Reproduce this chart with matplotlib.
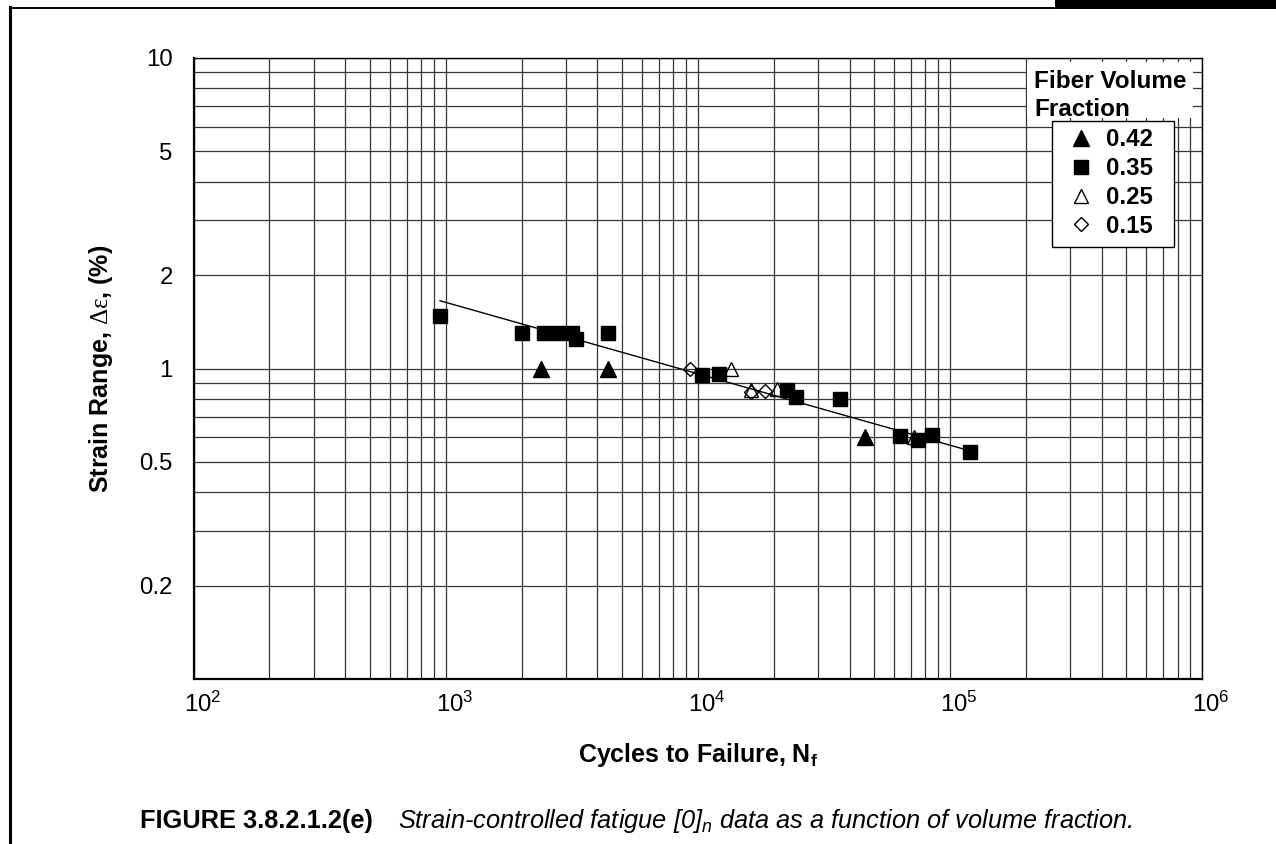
import numpy as np
import matplotlib
matplotlib.use('Agg')
import matplotlib.pyplot as plt
from matplotlib.lines import Line2D
from matplotlib.patches import Rectangle
from matplotlib.ticker import LogLocator, NullFormatter, FixedLocator, FixedFormatter
from matplotlib.transforms import ScaledTranslation

plt.rcParams['font.family'] = ['Liberation Sans', 'DejaVu Sans']
plt.rcParams['mathtext.fontset'] = 'custom'
plt.rcParams['mathtext.rm'] = 'Liberation Serif'
plt.rcParams['mathtext.it'] = 'Liberation Sans:italic'
plt.rcParams['mathtext.bf'] = 'Liberation Sans:bold'
plt.rcParams['mathtext.sf'] = 'Liberation Sans'

# ---------------- data ----------------
series_labels = ['0.42', '0.35', '0.25', '0.15']

n_042 = [2400, 4400, 46000]
e_042 = [1.0, 1.0, 0.6]

n_035 = [950, 2000, 2450, 2780, 3180, 3280, 4400, 10400, 12100,
         22500, 24500, 36500, 63500, 75000, 85000, 120000]
e_035 = [1.48, 1.3, 1.3, 1.3, 1.3, 1.24, 1.3, 0.955, 0.96,
         0.85, 0.81, 0.80, 0.605, 0.59, 0.61, 0.54]

n_025 = [13500, 16300, 20600, 72000]
e_025 = [1.0, 0.855, 0.86, 0.6]

n_015 = [9300, 16300, 18400]
e_015 = [1.0, 0.84, 0.845]

fit_coef = 8.0
fit_exp = -0.23
fit_n_range = [950, 118000]

legend_title_lines = ['Fiber Volume', 'Fraction']
x_ticks = [1e2, 1e3, 1e4, 1e5, 1e6]
x_tick_labels = [r'$\mathsf{10^{2}}$', r'$\mathsf{10^{3}}$', r'$\mathsf{10^{4}}$',
                 r'$\mathsf{10^{5}}$', r'$\mathsf{10^{6}}$']
y_ticks = [0.2, 0.5, 1, 2, 5, 10]
y_tick_labels = ['0.2', '0.5', '1', '2', '5', '10']
x_label = r'Cycles to Failure, N$_{\mathbf{f}}$'
y_label = r'Strain Range, $\mathrm{\Delta\varepsilon}$, (%)'
caption_bold = 'FIGURE 3.8.2.1.2(e)'
caption_italic = r'Strain-controlled fatigue [0]$_{\mathit{n}}$ data as a function of volume fraction.'

# ---------------- figure ----------------
W, H = 1276, 844
fig = plt.figure(figsize=(W / 100, H / 100), dpi=100)
fig.patch.set_facecolor('white')

L, R, T, B = 193.5, 1202, 58, 679
ax = fig.add_axes([L / W, 1 - B / H, (R - L) / W, (B - T) / H])
ax.set_xscale('log')
ax.set_yscale('log')
ax.set_xlim(1e2, 1e6)
ax.set_ylim(0.1, 10)


def ax_x(px):
    return (px - L) / (R - L)


def ax_y(py):
    return (B - py) / (B - T)


ax.xaxis.set_major_locator(FixedLocator(x_ticks))
ax.xaxis.set_major_formatter(FixedFormatter(x_tick_labels))
ax.yaxis.set_major_locator(FixedLocator(y_ticks))
ax.yaxis.set_major_formatter(FixedFormatter(y_tick_labels))
ax.xaxis.set_minor_locator(LogLocator(base=10, subs=np.arange(2, 10), numticks=20))
ax.yaxis.set_minor_locator(LogLocator(base=10, subs=np.arange(2, 10), numticks=20))
ax.xaxis.set_minor_formatter(NullFormatter())
ax.yaxis.set_minor_formatter(NullFormatter())

ax.set_axisbelow(True)
ax.grid(True, which='both', color='#363636', lw=0.9)
ax.tick_params(which='both', length=0)
ax.tick_params(axis='y', pad=15, labelsize=17.3)
ax.tick_params(axis='x', pad=9, labelsize=17.3)
for lab in ax.get_xticklabels():
    lab.set_transform(lab.get_transform() + ScaledTranslation(9 / 100, 0, fig.dpi_scale_trans))

for s in ['left', 'bottom']:
    ax.spines[s].set_linewidth(1.6)
for s in ['top', 'right']:
    ax.spines[s].set_linewidth(1.0)

# fit line
fit_n = np.array(fit_n_range, dtype=float)
ax.plot(fit_n, fit_coef * fit_n ** fit_exp, color='black', lw=1.0, zorder=3)

# data markers
ms_kw = dict(ls='none', color='black', zorder=4)
ax.plot(n_042, e_042, marker='^', ms=11, mfc='black', mec='black', **ms_kw)
ax.plot(n_035, e_035, marker='s', ms=10.4, mfc='black', mec='black', **ms_kw)
ax.plot(n_025, e_025, marker='^', ms=10.5, mfc='none', mec='black', mew=1.0, **ms_kw)
ax.plot(n_015, e_015, marker='D', ms=6.8, mfc='none', mec='black', mew=1.0, **ms_kw)

# legend header with white background
ax.add_patch(Rectangle((ax_x(1027), ax_y(118)), ax_x(1193) - ax_x(1027), ax_y(62) - ax_y(118),
                       transform=ax.transAxes, facecolor='white', edgecolor='none', zorder=2.6))
for line, py in zip(legend_title_lines, [88, 116]):
    ax.text(ax_x(1034), ax_y(py), line, transform=ax.transAxes, fontsize=17.5,
            fontweight='bold', va='baseline', ha='left', zorder=6)

# legend frame + entries
ax.add_patch(Rectangle((ax_x(1052), ax_y(247)), ax_x(1174) - ax_x(1052), ax_y(121) - ax_y(247),
                       transform=ax.transAxes, facecolor='white', edgecolor='black', lw=1.0,
                       zorder=6))
handles = [
    Line2D([], [], ls='none', marker='^', ms=11, mfc='black', mec='black'),
    Line2D([], [], ls='none', marker='s', ms=10.4, mfc='black', mec='black'),
    Line2D([], [], ls='none', marker='^', ms=10.5, mfc='none', mec='black', mew=1.0),
    Line2D([], [], ls='none', marker='D', ms=6.8, mfc='none', mec='black', mew=1.0),
]
leg = ax.legend(handles, series_labels, loc='upper left',
                bbox_to_anchor=(ax_x(1066.6), ax_y(128.5)),
                borderaxespad=0, frameon=False, handlelength=1.2, handletextpad=0.44,
                labelspacing=0.24, borderpad=0, prop={'weight': 'bold', 'size': 17.3})
leg.set_zorder(7)

# axis labels
ax.set_xlabel(x_label, fontsize=18, fontweight='bold')
ax.xaxis.label.set_va('baseline')
ax.xaxis.set_label_coords(0.5, ax_y(762))
ax.set_ylabel(y_label, fontsize=18, fontweight='bold')
ax.yaxis.label.set_va('center')
ax.yaxis.set_label_coords(ax_x(101), 0.5)

# caption
fig.text(140 / W, 1 - 828 / H, caption_bold, fontsize=18.3, fontweight='bold', va='baseline')
fig.text(398 / W, 1 - 828 / H, caption_italic, fontsize=18.3, style='italic', va='baseline')

# page frame
fig.add_artist(Line2D([9.5 / W, 9.5 / W], [0, 1 - 7 / H], transform=fig.transFigure,
                      color='black', lw=2.2))
fig.add_artist(Line2D([9.5 / W, 1056 / W], [1 - 7.5 / H, 1 - 7.5 / H], transform=fig.transFigure,
                      color='black', lw=1.4))
fig.add_artist(Rectangle((1055 / W, 1 - 8.5 / H), (W - 1055) / W, 8.5 / H,
                         transform=fig.transFigure, facecolor='black', edgecolor='none'))

fig.savefig('out.png', dpi=100, facecolor='white')
